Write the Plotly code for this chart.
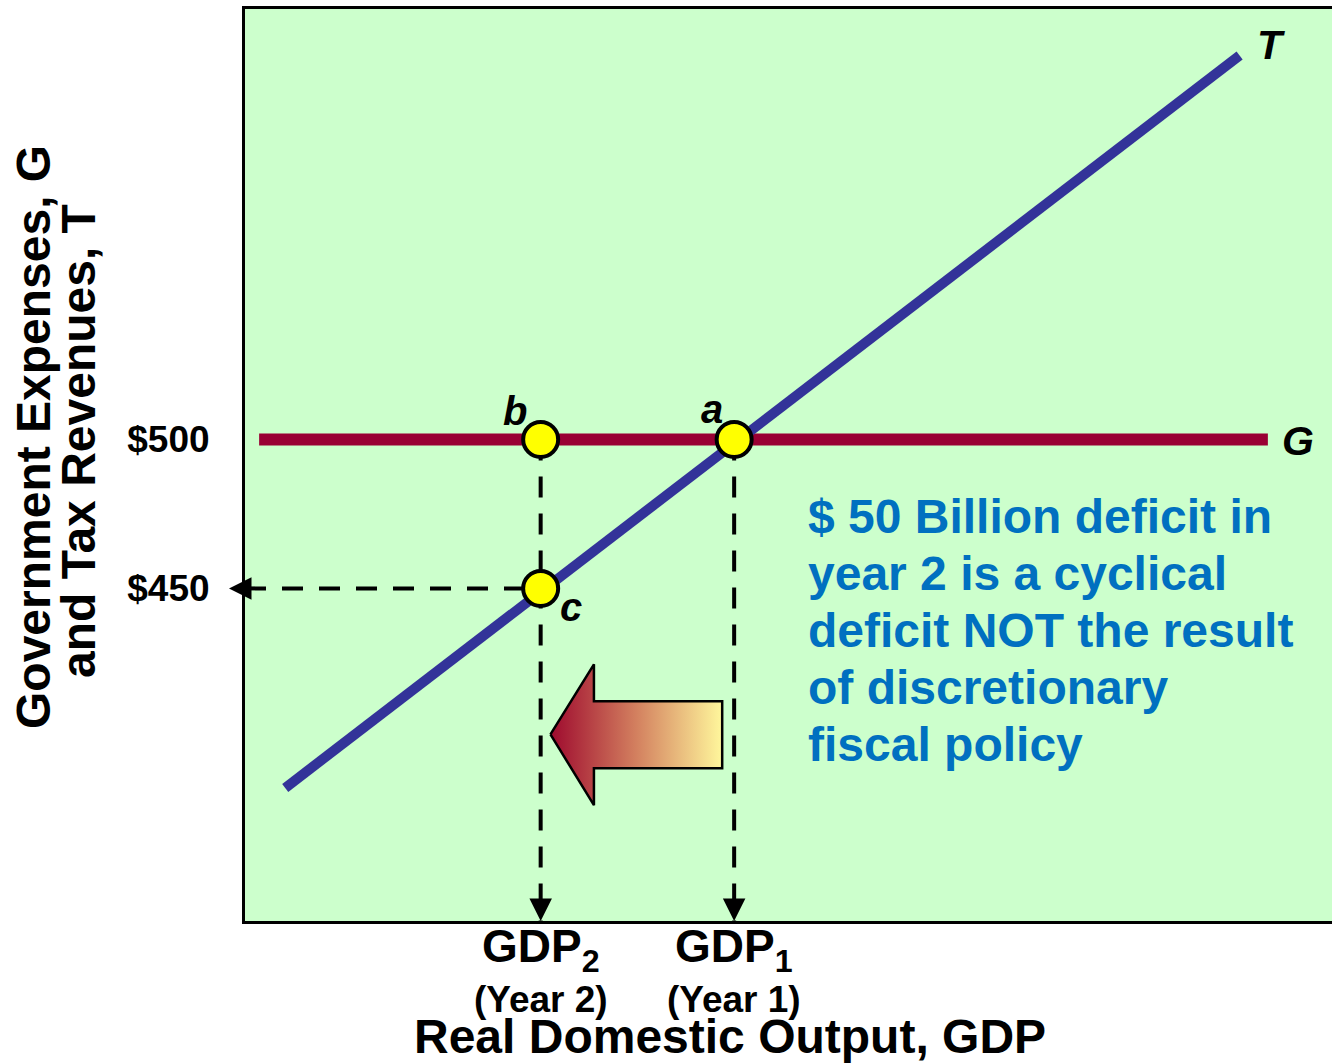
import plotly.graph_objects as go

# ---- data ----
gdp_labels = ["GDP<sub>2</sub>", "GDP<sub>1</sub>"]
year_labels = ["(Year 2)", "(Year 1)"]
gdp_x = [27.2, 45.0]               # GDP2, GDP1
G_level = 500
G_x = [1.3, 94.1]
G_y = [500, 500]
T_x = [3.7, 91.5]
T_y = [383, 629]
pts_x = [27.2, 45.0, 27.2]         # b, a, c
pts_y = [500, 500, 450]
pts_names = ["b", "a", "c"]
y_tickvals = [450, 500]
y_ticktext = ["$450", "$500"]
arrow_x = [28.1, 32.1, 32.1, 43.9, 43.9, 32.1, 32.1, 28.1]
arrow_y = [401, 424.5, 412.1, 412.1, 389.6, 389.6, 377.2, 401]
note_lines = ["$ 50 Billion deficit in", "year 2 is a cyclical",
              "deficit NOT the result", "of discretionary", "fiscal policy"]

X_RANGE = [0, 100]
Y_RANGE = [338.3, 644.6]

W, H = 1332, 1063
ML, MR, MT, MB = 245, 0, 9, 142
PW, PH = W - ML - MR, H - MT - MB

FONT = "Arial, Liberation Sans, sans-serif"
BG = "#CCFFCC"
TBLUE = "#333399"
GRED = "#990033"
NOTE = "#0070C0"


def py(p):  # pixel y -> paper y
    return (H - MB - p) / PH


def px(p):  # pixel x -> paper x
    return (p - ML) / PW


fig = go.Figure()

# dashed guide lines
for gx in gdp_x:
    fig.add_trace(go.Scatter(x=[gx, gx], y=[G_level, Y_RANGE[0]], mode="lines",
                             line=dict(color="black", width=4, dash="21px,16px"),
                             hoverinfo="skip", showlegend=False))
fig.add_trace(go.Scatter(x=[X_RANGE[0], gdp_x[0]], y=[pts_y[2], pts_y[2]], mode="lines",
                         line=dict(color="black", width=4, dash="21px,16px"),
                         hoverinfo="skip", showlegend=False))

# gradient arrow
fig.add_trace(go.Scatter(x=arrow_x, y=arrow_y, mode="lines", fill="toself",
                         fillgradient=dict(type="horizontal",
                                           colorscale=[[0, "#9E0A2E"], [0.5, "#D3805F"], [1, "#FFF79C"]]),
                         line=dict(color="black", width=2.5),
                         hoverinfo="skip", showlegend=False))

# G and T lines
fig.add_trace(go.Scatter(x=G_x, y=G_y, mode="lines", line=dict(color=GRED, width=12),
                         hoverinfo="skip", showlegend=False))
fig.add_trace(go.Scatter(x=T_x, y=T_y, mode="lines", line=dict(color=TBLUE, width=10),
                         hoverinfo="skip", showlegend=False))

# points
fig.add_trace(go.Scatter(x=pts_x, y=pts_y, mode="markers",
                         marker=dict(size=35, color="#FFFF00", line=dict(color="black", width=4)),
                         hoverinfo="skip", showlegend=False))

ann = []
ital = dict(family=FONT, size=40, color="black", weight="bold", style="italic")
shifts = {"b": (-26, 29), "a": (-22, 31), "c": (30, -19)}
for n, x, y in zip(pts_names, pts_x, pts_y):
    sx, sy = shifts[n]
    ann.append(dict(x=x, y=y, xref="x", yref="y", text=n, showarrow=False,
                    xshift=sx, yshift=sy, font=ital))
ann.append(dict(x=T_x[1], y=T_y[1], xref="x", yref="y", text="T", showarrow=False,
                xshift=31, yshift=10, font=dict(ital, size=41)))
ann.append(dict(x=G_x[1], y=G_y[1], xref="x", yref="y", text="G", showarrow=False,
                xshift=30, yshift=-1, font=dict(ital, size=41)))

# arrowheads
for gx in gdp_x:
    ann.append(dict(x=gx, y=Y_RANGE[0], xref="x", yref="y", text="", showarrow=True,
                    ax=0, ay=-22, arrowhead=2, arrowsize=1.5, arrowwidth=3,
                    arrowcolor="black", standoff=0))
ann.append(dict(x=0, y=pts_y[2], xref="paper", yref="y", text="", showarrow=True,
                ax=22, ay=0, xshift=-16, arrowhead=2, arrowsize=1.5, arrowwidth=3,
                arrowcolor="black", standoff=0))

# note text
for i, line in enumerate(note_lines):
    ann.append(dict(x=px(806), y=py(516 + i * 57.2), xref="paper", yref="paper",
                    text=line, showarrow=False, xanchor="left", yanchor="middle",
                    font=dict(family=FONT, size=48, color=NOTE, weight="bold")))

# x labels
for gx, gl, yl in zip(gdp_x, gdp_labels, year_labels):
    ann.append(dict(x=gx, y=py(949), xref="x", yref="paper", text=gl, showarrow=False,
                    yanchor="middle", font=dict(family=FONT, size=46, color="black", weight="bold")))
    ann.append(dict(x=gx, y=py(999), xref="x", yref="paper", text=yl, showarrow=False,
                    yanchor="middle", font=dict(family=FONT, size=37, color="black", weight="bold")))

# axis titles
ann.append(dict(x=px(730), y=py(1036), xref="paper", yref="paper",
                text="Real Domestic Output, GDP", showarrow=False, yanchor="middle",
                font=dict(family=FONT, size=48, color="black", weight="bold")))
ann.append(dict(x=px(33), y=py(437), xref="paper", yref="paper",
                text="Government Expenses, G", showarrow=False, textangle=-90,
                xanchor="center", yanchor="middle",
                font=dict(family=FONT, size=48, color="black", weight="bold")))
ann.append(dict(x=px(78), y=py(441), xref="paper", yref="paper",
                text="and Tax Revenues, T", showarrow=False, textangle=-90,
                xanchor="center", yanchor="middle",
                font=dict(family=FONT, size=48, color="black", weight="bold")))

fig.update_layout(
    width=W, height=H,
    margin=dict(l=ML, r=MR, t=MT, b=MB, pad=0),
    paper_bgcolor="white", plot_bgcolor=BG,
    xaxis=dict(range=X_RANGE, showgrid=False, zeroline=False, showticklabels=False,
               ticks="", showline=True, linecolor="black", linewidth=3, mirror=True,
               fixedrange=True),
    yaxis=dict(range=Y_RANGE, showgrid=False, zeroline=False, tickvals=y_tickvals,
               ticktext=y_ticktext, ticks="", showline=True, linecolor="black",
               linewidth=3, ticklabelstandoff=25,
               tickfont=dict(family=FONT, size=37, color="black", weight="bold"),
               fixedrange=True),
    annotations=ann,
    showlegend=False,
)

fig.write_html("out.html")
